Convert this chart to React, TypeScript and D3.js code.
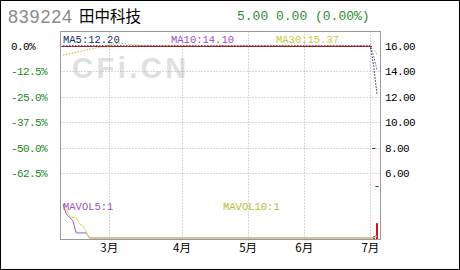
import React from "react";
import * as d3 from "d3";

// ---- data ----
const stockCode = "839224";
const stockName = "田中科技";
const quoteText = "5.00 0.00 (0.00%)";

// daily closes (trading-day index 0..95); stock was suspended at 16.00
const closes = [
  16, 16, 16, 16, 16, 16, 16, 16, 16, 16, 16, 16, 16, 16, 16, 16,
  16, 16, 16, 16, 16, 16, 16, 16, 16, 16, 16, 16, 16, 16, 16, 16,
  16, 16, 16, 16, 16, 16, 16, 16, 16, 16, 16, 16, 16, 16, 16, 16,
  16, 16, 16, 16, 16, 16, 16, 16, 16, 16, 16, 16, 16, 16, 16, 16,
  16, 16, 16, 16, 16, 16, 16, 16, 16, 16, 16, 16, 16, 16, 16, 16,
  16, 16, 16, 16, 16, 16, 16, 16, 16, 16, 16, 16, 16, 16, 8, 5,
];

// moving-average readings (index, value)
const ma5Idx = [0, 93, 94, 95];
const ma5Val = [16, 16, 14.4, 12.2];
const ma10Idx = [0, 93, 94, 95];
const ma10Val = [16, 16, 15.2, 14.1];
const ma30Idx = [0, 10, 17, 24, 93, 94, 95];
const ma30Val = [15.28, 15.85, 16.24, 16.0, 16.0, 15.73, 15.37];

// volume bars (index, value)
const volIdx = [94, 95];
const volVal = [0.5, 4.7];
const mavol5Idx = [0, 1, 2, 3, 4, 7, 8, 93, 94, 95];
const mavol5Val = [10.7, 7.6, 6.5, 5.4, 1.6, 1.6, 0, 0, 0.1, 1.0];
const mavol10Idx = [0, 1, 2, 4, 5, 6, 8, 93, 94, 95];
const mavol10Val = [9.1, 9.1, 6.7, 6.3, 4.4, 3.9, 0, 0, 0.05, 0.5];

const priceTicks = [16, 14, 12, 10, 8, 6];
const pctLabels = ["0.0%", "-12.5%", "-25.0%", "-37.5%", "-50.0%", "-62.5%"];
const monthIdx = [14, 36, 56, 73, 93];
const monthLabels = ["3月", "4月", "5月", "6月", "7月"];

const maLabels = ["MA5:12.20", "MA10:14.10", "MA30:15.37"];
const mavolLabels = ["MAVOL5:1", "MAVOL10:1"];

export default function App() {
  const W = 460;
  const H = 270;
  const left = 60.5, right = 380.5, top = 31.5, bottom = 239.5;

  const x = d3.scaleLinear().domain([0, 95]).range([63, 377]);
  const y = d3.scaleLinear().domain([6, 16]).range([173, 46]);
  const yv = d3.scaleLinear().domain([0, 12]).range([238, 200]);
  const step = x(1) - x(0);

  const maLine = (idx: number[], vals: number[], sc: d3.ScaleLinear<number, number>) =>
    d3.line<number>().x((_, i) => x(idx[i])).y((v) => sc(v))(vals) || "";

  const mono = "'Liberation Mono', 'DejaVu Sans Mono', monospace";
  const cjk = "'Noto Sans CJK SC', sans-serif";

  return (
    <svg width={W} height={H} style={{ position: "fixed", left: 0, top: 0, background: "#fff" }}>
      <rect x={0.5} y={0.5} width={W - 1} height={H - 1} fill="#fff" stroke="#000" />
      {/* header */}
      <text x={8} y={23} fontFamily="'Liberation Sans', Arial, sans-serif" fontSize={18} fill="#8a8a8a" letterSpacing={0.8}>
        {stockCode}
      </text>
      <text x={79} y={22} fontFamily={cjk} fontSize={15.5} fill="#000">{stockName}</text>
      <text x={237} y={20} fontFamily={mono} fontSize={13} fill="#2e8b2e">{quoteText}</text>

      {/* watermark */}
      <text x={72} y={78} fontFamily="'Liberation Sans', Arial, sans-serif" fontWeight="bold" fontSize={29} fill="#e0e0e0" letterSpacing={3.5}>
        CFi.CN
      </text>

      {/* grid */}
      {priceTicks.slice(1).map((p) => (
        <line key={"h" + p} x1={left} x2={right} y1={Math.round(y(p)) + 0.5} y2={Math.round(y(p)) + 0.5} stroke="#b0b0b0" strokeDasharray="1,2" />
      ))}
      {monthIdx.map((m) => (
        <line key={"v" + m} x1={Math.round(x(m)) + 0.5} x2={Math.round(x(m)) + 0.5} y1={top} y2={bottom} stroke="#b0b0b0" strokeDasharray="1,2" />
      ))}

      {/* MA labels */}
      <text x={63} y={43} fontFamily={mono} fontSize={10.5} fill="#1a2a6a">{maLabels[0]}</text>
      <text x={171} y={43} fontFamily={mono} fontSize={10.5} fill="#a050c0">{maLabels[1]}</text>
      <text x={276} y={43} fontFamily={mono} fontSize={10.5} fill="#c8c840">{maLabels[2]}</text>

      {/* MA lines */}
      <path d={maLine(ma30Idx, ma30Val, y)} fill="none" stroke="#c8b020" strokeDasharray="1.5,1.5" />
      <path d={maLine(ma10Idx, ma10Val, y)} fill="none" stroke="#8050a0" strokeDasharray="1.5,1.5" />
      <path d={maLine(ma5Idx, ma5Val, y)} fill="none" stroke="#203060" strokeDasharray="1.5,1.5" />

      {/* candles (doji) */}
      {closes.map((c, i) => (
        <line key={"c" + i} x1={x(i) - step / 2} x2={x(i) + step / 2} y1={Math.round(y(c)) + 0.5} y2={Math.round(y(c)) + 0.5} stroke="#a01c1c" />
      ))}

      {/* volume */}
      {volIdx.map((vi, i) => (
        <rect key={"vb" + i} x={Math.round(x(vi)) - 1} y={yv(volVal[i])} width={2} height={yv(0) - yv(volVal[i]) + 1} fill="#c01818" />
      ))}
      <path d={maLine(mavol5Idx, mavol5Val, yv)} fill="none" stroke="#9a5fc0" />
      <path d={maLine(mavol10Idx, mavol10Val, yv)} fill="none" stroke="#d8d860" />
      <text x={63} y={210} fontFamily={mono} fontSize={10.5} fill="#a050c0">{mavolLabels[0]}</text>
      <text x={223} y={210} fontFamily={mono} fontSize={10.5} fill="#b8b830">{mavolLabels[1]}</text>

      {/* plot frame */}
      <rect x={left} y={top} width={right - left} height={bottom - top} fill="none" stroke="#999" />

      {/* axis labels */}
      {priceTicks.map((p, i) => (
        <text key={"l" + p} x={11} y={y(p) + 4} fontFamily={mono} fontSize={11} letterSpacing={-0.6} fill={i === 0 ? "#000" : "#1a8a1a"}>
          {pctLabels[i]}
        </text>
      ))}
      {priceTicks.map((p) => (
        <text key={"r" + p} x={385} y={y(p) + 4} fontFamily={mono} fontSize={11} letterSpacing={-0.6} fill="#000">
          {p.toFixed(2)}
        </text>
      ))}
      {monthIdx.map((m, i) => (
        <text key={"m" + m} x={x(m)} y={252} textAnchor="middle" fontFamily={cjk} fontSize={11.5} fill="#000">
          {monthLabels[i]}
        </text>
      ))}
    </svg>
  );
}
